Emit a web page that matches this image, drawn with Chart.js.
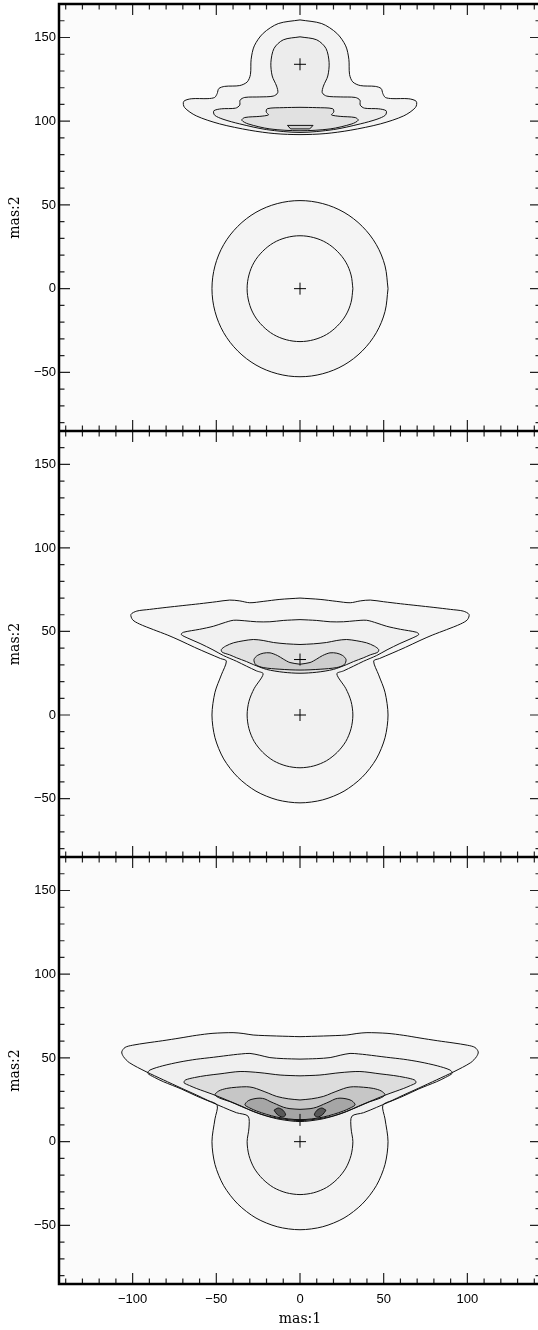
<!DOCTYPE html>
<html lang="en">
<head>
    <meta charset="UTF-8">
    <title>mas contours</title>
    <script src="https://cdn.jsdelivr.net/npm/chart.js"></script>
    <style>
        body {
            margin: 0;
            padding: 0;
            background: #fff;
            overflow: hidden;
        }
        #wrap {
            position: relative;
            width: 538px;
            height: 1330px;
            overflow: hidden;
        }
        canvas {
            position: absolute;
            left: 0;
        }
    </style>
</head>
<body>
    <div id="wrap">
        <canvas id="panel1" width="541" height="431" style="top:0"></canvas>
        <canvas id="panel2" width="541" height="426" style="top:431px"></canvas>
        <canvas id="panel3" width="541" height="473" style="top:857px"></canvas>
    </div>
    <script>
        // axes
        const xRange = [-144, 144];
        const yRange = [-85, 170];
        const xTickLabels = [-100, -50, 0, 50, 100];
        const yTickLabels = [-50, 0, 50, 100, 150];
        const xTitle = 'mas:1';
        const yTitle = 'mas:2';

        // source positions (the + marks)
        const p1Sources = [[0, 0], [0, 134]];
        const p2Sources = [[0, 0], [0, 33.2]];
        const p3Sources = [[0, 0], [0, 13]];

        // panel 1 contours
        const p1CircleOuter = [[52.6,0],[50.8,13.6],[45.6,26.3],[37.2,37.2],[26.3,45.6],[13.6,50.8],[0,52.6],[-13.6,50.8],[-26.3,45.6],[-37.2,37.2],[-45.6,26.3],[-50.8,13.6],[-52.6,0],[-50.8,-13.6],[-45.6,-26.3],[-37.2,-37.2],[-26.3,-45.6],[-13.6,-50.8],[0,-52.6],[13.6,-50.8],[26.3,-45.6],[37.2,-37.2],[45.6,-26.3],[50.8,-13.6],[52.6,0]];
        const p1CircleInner = [[31.6,0],[30.5,8.2],[27.4,15.8],[22.3,22.3],[15.8,27.4],[8.2,30.5],[0,31.6],[-8.2,30.5],[-15.8,27.4],[-22.3,22.3],[-27.4,15.8],[-30.5,8.2],[-31.6,0],[-30.5,-8.2],[-27.4,-15.8],[-22.3,-22.3],[-15.8,-27.4],[-8.2,-30.5],[0,-31.6],[8.2,-30.5],[15.8,-27.4],[22.3,-22.3],[27.4,-15.8],[30.5,-8.2],[31.6,0]];
        const p1FanA = [[0,160.5],[13,158.3],[22,152.5],[27.3,145],[29.2,137],[29.6,128],[31.5,123.5],[36,121.3],[45,120.8],[48.5,119.5],[49.5,116.5],[51,114.2],[55,113.5],[65,113.4],[69.5,111.8],[69,108.2],[62,103.2],[48,98.4],[30,94.6],[15,92.6],[0,92],[-15,92.6],[-30,94.6],[-48,98.4],[-62,103.2],[-69,108.2],[-69.5,111.8],[-65,113.4],[-55,113.5],[-51,114.2],[-49.5,116.5],[-48.5,119.5],[-45,120.8],[-36,121.3],[-31.5,123.5],[-29.6,128],[-29.2,137],[-27.3,145],[-22,152.5],[-13,158.3],[0,160.5]];
        const p1FanB = [[0,150.4],[10,148.6],[15.5,143.5],[17.4,135],[16.6,127],[14,121],[13.3,117],[16,115],[24,114.5],[33,114.2],[35.8,112.6],[36,109.6],[38.5,107.8],[47,107.4],[51.5,106.2],[51,103.6],[46,101.2],[36,98.4],[20,95],[0,93.3],[-20,95],[-36,98.4],[-46,101.2],[-51,103.6],[-51.5,106.2],[-47,107.4],[-38.5,107.8],[-36,109.6],[-35.8,112.6],[-33,114.2],[-24,114.5],[-16,115],[-13.3,117],[-14,121],[-16.6,127],[-17.4,135],[-15.5,143.5],[-10,148.6],[0,150.4]];
        const p1FanC = [[0,108.3],[10,108.1],[19.5,107.5],[20.2,105.5],[18.8,103.8],[24,102.9],[33,102.2],[34.8,100.6],[31,98.4],[18,95.4],[0,94.3],[-18,95.4],[-31,98.4],[-34.8,100.6],[-33,102.2],[-24,102.9],[-18.8,103.8],[-20.2,105.5],[-19.5,107.5],[-10,108.1],[0,108.3]];
        const p1FanD = [[-7.5,97.5],[7.8,97.5],[5.8,95.4],[-5.6,95.4],[-7.5,97.5]];

        // panel 2 contours
        const p2LevelA = [[0,70],[12,69.2],[22,68],[30,67.2],[36,68.3],[42,68.8],[50,67.8],[60,66.6],[70,65.5],[80,64.4],[90,63.2],[97.5,62.2],[101,60.2],[100,57],[96,54.5],[87.6,51.1],[79,47.8],[71.7,44.6],[63,40.5],[55,37],[47.5,33.8],[44,32.3],[47,24],[50.8,13.6],[52.6,0],[50.8,-13.6],[45.6,-26.3],[37.2,-37.2],[26.3,-45.6],[13.6,-50.8],[0,-52.6],[-13.6,-50.8],[-26.3,-45.6],[-37.2,-37.2],[-45.6,-26.3],[-50.8,-13.6],[-52.6,0],[-50.8,13.6],[-47,24],[-44,32.3],[-47.5,33.8],[-55,37],[-63,40.5],[-71.7,44.6],[-79,47.8],[-87.6,51.1],[-96,54.5],[-100,57],[-101,60.2],[-97.5,62.2],[-90,63.2],[-80,64.4],[-70,65.5],[-60,66.6],[-50,67.8],[-42,68.8],[-36,68.3],[-30,67.2],[-22,68],[-12,69.2],[0,70]];
        const p2LevelB = [[0,57.1],[10,56.6],[18,55.8],[26,55.8],[33,56.4],[39.8,56.7],[46,55],[51.8,53.1],[60,51.3],[69.7,49.5],[71,48.2],[67,46],[59.7,42.8],[52,39],[45.8,35.6],[38,32.2],[31.9,29.2],[26,26.4],[22,24.6],[27.4,15.8],[30.5,8.2],[31.6,0],[30.5,-8.2],[27.4,-15.8],[22.3,-22.3],[15.8,-27.4],[8.2,-30.5],[0,-31.6],[-8.2,-30.5],[-15.8,-27.4],[-22.3,-22.3],[-27.4,-15.8],[-30.5,-8.2],[-31.6,0],[-30.5,8.2],[-27.4,15.8],[-22,24.6],[-26,26.4],[-31.9,29.2],[-38,32.2],[-45.8,35.6],[-52,39],[-59.7,42.8],[-67,46],[-71,48.2],[-69.7,49.5],[-60,51.3],[-51.8,53.1],[-46,55],[-39.8,56.7],[-33,56.4],[-26,55.8],[-18,55.8],[-10,56.6],[0,57.1]];
        const p2LevelC = [[0,42.2],[8,42.6],[15.9,43.4],[22,44.6],[27.9,45.2],[34,44.4],[39.8,43.2],[44.5,41.2],[47,39.2],[46.5,37.6],[42,36],[37.8,34.2],[32,32],[27.9,30.2],[20,27.3],[10,25.6],[0,25],[-10,25.6],[-20,27.3],[-27.9,30.2],[-32,32],[-37.8,34.2],[-42,36],[-46.5,37.6],[-47,39.2],[-44.5,41.2],[-39.8,43.2],[-34,44.4],[-27.9,45.2],[-22,44.6],[-15.9,43.4],[-8,42.6],[0,42.2]];
        const p2LevelD = [[0,30.4],[6,31.4],[10,33.5],[13.5,35.6],[17.9,37.2],[22,37],[25.5,35.6],[27.5,33.2],[26.5,30.2],[22,28.4],[12,27.4],[0,26.9],[-12,27.4],[-22,28.4],[-26.5,30.2],[-27.5,33.2],[-25.5,35.6],[-22,37],[-17.9,37.2],[-13.5,35.6],[-10,33.5],[-6,31.4],[0,30.4]];

        // panel 3 contours
        const p3LevelA = [[0,62.7],[14,63.1],[28,63.7],[34,64.6],[40,65.1],[52,64.7],[62,63.5],[71.7,61.9],[82,60.3],[92,58.9],[100,57.6],[104.5,56.3],[106.5,53.6],[105.5,50.8],[102,47.2],[92,41.8],[81.6,36.9],[71,32],[61.7,27.8],[55,24.6],[49.5,21.8],[50.8,13.6],[52.6,0],[50.8,-13.6],[45.6,-26.3],[37.2,-37.2],[26.3,-45.6],[13.6,-50.8],[0,-52.6],[-13.6,-50.8],[-26.3,-45.6],[-37.2,-37.2],[-45.6,-26.3],[-50.8,-13.6],[-52.6,0],[-50.8,13.6],[-49.5,21.8],[-55,24.6],[-61.7,27.8],[-71,32],[-81.6,36.9],[-92,41.8],[-102,47.2],[-105.5,50.8],[-106.5,53.6],[-104.5,56.3],[-100,57.6],[-92,58.9],[-82,60.3],[-71.7,61.9],[-62,63.5],[-52,64.7],[-40,65.1],[-34,64.6],[-28,63.7],[-14,63.1],[0,62.7]];
        const p3LevelB = [[0,49.3],[10,49.6],[18,50.2],[24,51.6],[29.9,52.7],[35,52.4],[39.8,51.9],[51.8,50.4],[62,49.2],[71.7,47.6],[82,45.3],[89.6,42.8],[91,40.9],[87,38.4],[81.6,35.8],[71,31.5],[61.7,27.2],[53,23.6],[45.8,20.5],[38,17.3],[31,15.2],[30.5,8.2],[31.6,0],[30.5,-8.2],[27.4,-15.8],[22.3,-22.3],[15.8,-27.4],[8.2,-30.5],[0,-31.6],[-8.2,-30.5],[-15.8,-27.4],[-22.3,-22.3],[-27.4,-15.8],[-30.5,-8.2],[-31.6,0],[-30.5,8.2],[-31,15.2],[-38,17.3],[-45.8,20.5],[-53,23.6],[-61.7,27.2],[-71,31.5],[-81.6,35.8],[-87,38.4],[-91,40.9],[-89.6,42.8],[-82,45.3],[-71.7,47.6],[-62,49.2],[-51.8,50.4],[-39.8,51.9],[-35,52.4],[-29.9,52.7],[-24,51.6],[-18,50.2],[-10,49.6],[0,49.3]];
        const p3LevelC = [[0,39.3],[11.9,39.8],[23.9,41.2],[35.8,41.9],[47.8,40.5],[56,39.5],[63,38.3],[68.5,36.8],[69.3,35.2],[66,33.5],[61.7,31.7],[52,28.2],[43.8,24.9],[35,21.2],[27.9,18],[20,15.3],[11.9,13.3],[0,12],[-11.9,13.3],[-20,15.3],[-27.9,18],[-35,21.2],[-43.8,24.9],[-52,28.2],[-61.7,31.7],[-66,33.5],[-69.3,35.2],[-68.5,36.8],[-63,38.3],[-56,39.5],[-47.8,40.5],[-35.8,41.9],[-23.9,41.2],[-11.9,39.8],[0,39.3]];
        const p3LevelD = [[0,24.9],[7,25.6],[13.9,27],[19,29],[23.9,30.9],[28,32.3],[31.9,32.8],[38,32.5],[43.8,31.8],[48.5,30.3],[50.8,28],[48,26],[41.8,23.9],[35,21],[27.9,18.1],[20,15.4],[11.9,13.8],[0,12.6],[-11.9,13.8],[-20,15.4],[-27.9,18.1],[-35,21],[-41.8,23.9],[-48,26],[-50.8,28],[-48.5,30.3],[-43.8,31.8],[-38,32.5],[-31.9,32.8],[-28,32.3],[-23.9,30.9],[-19,29],[-13.9,27],[-7,25.6],[0,24.9]];
        const p3LevelE = [[0,19.3],[6,19.7],[10,20.6],[14,22.3],[17.9,24],[21,25.5],[23.9,26],[27.5,25.6],[30.9,24.5],[32.9,22],[30,20.1],[25.9,18.3],[20,16.3],[13.9,14.7],[7,13.6],[0,13.1],[-7,13.6],[-13.9,14.7],[-20,16.3],[-25.9,18.3],[-30,20.1],[-32.9,22],[-30.9,24.5],[-27.5,25.6],[-23.9,26],[-21,25.5],[-17.9,24],[-14,22.3],[-10,20.6],[-6,19.7],[0,19.3]];
        const p3BlobLeft = [[-15.5,18.8],[-13,20.1],[-10.2,18.8],[-8.6,16],[-10.5,14.7],[-13.6,16.2],[-15.5,18.8]];
        const p3BlobRight = [[15.5,18.8],[13,20.1],[10.2,18.8],[8.6,16],[10.5,14.7],[13.6,16.2],[15.5,18.8]];

        const minorStep = 10;
        const majorStep = 50;

        function toXY(arr) {
            return arr.map(p => ({x: p[0], y: p[1]}));
        }

        function contour(arr, shade, tension) {
            return {
                data: toXY(arr),
                shade: shade,
                showLine: true,
                borderColor: '#111',
                borderWidth: 1,
                pointRadius: 0,
                tension: tension === undefined ? 0.34 : tension,
                fill: false
            };
        }

        function sources(arr) {
            return {
                data: toXY(arr),
                showLine: false,
                pointStyle: 'cross',
                pointRadius: 6,
                pointBorderWidth: 1,
                pointBorderColor: '#000',
                borderColor: '#000'
            };
        }

        function fmt(v) {
            return v < 0 ? '\u2212' + (-v) : String(v);
        }

        // no extra room for half tick labels at the ends of the axes
        function noEdgePadding(s) {
            s.paddingTop = 0;
            s.paddingBottom = 0;
            s.paddingLeft = 0;
            s.paddingRight = 0;
        }

        // background, grey shading under contours, frame and inward ticks
        const framePlugin = {
            id: 'frame',
            beforeDatasetsDraw(chart) {
                const ctx = chart.ctx;
                const a = chart.chartArea;
                ctx.save();
                ctx.fillStyle = '#fbfbfb';
                ctx.fillRect(a.left, a.top, a.right - a.left, a.bottom - a.top);
                chart.data.datasets.forEach((ds, i) => {
                    if (!ds.shade) return;
                    const line = chart.getDatasetMeta(i).dataset;
                    if (!line) return;
                    line.updateControlPoints(a, 'x');
                    ctx.beginPath();
                    line.path(ctx);
                    ctx.closePath();
                    ctx.fillStyle = ds.shade;
                    ctx.fill();
                });
                ctx.restore();
            },
            afterDraw(chart) {
                const ctx = chart.ctx;
                const a = chart.chartArea;
                const xs = chart.scales.x;
                const ys = chart.scales.y;
                ctx.save();
                ctx.strokeStyle = '#222';
                ctx.lineWidth = 1.2;
                ctx.beginPath();
                for (let v = Math.ceil(xs.min / minorStep) * minorStep; v < xs.max; v += minorStep) {
                    if (v <= xs.min) continue;
                    const len = v % majorStep === 0 ? 11 : 5.5;
                    const px = xs.getPixelForValue(v);
                    ctx.moveTo(px, a.bottom);
                    ctx.lineTo(px, a.bottom - len);
                    ctx.moveTo(px, a.top);
                    ctx.lineTo(px, a.top + len);
                }
                for (let v = Math.ceil(ys.min / minorStep) * minorStep; v < ys.max; v += minorStep) {
                    if (v <= ys.min) continue;
                    const len = v % majorStep === 0 ? 11 : 5.5;
                    const py = ys.getPixelForValue(v);
                    ctx.moveTo(a.left, py);
                    ctx.lineTo(a.left + len, py);
                    ctx.moveTo(a.right, py);
                    ctx.lineTo(a.right - len, py);
                }
                ctx.stroke();
                ctx.strokeStyle = '#000';
                ctx.lineWidth = 2.5;
                ctx.strokeRect(a.left, a.top, a.right - a.left, a.bottom - a.top);
                ctx.restore();
            }
        };

        const tickFont = {family: 'Liberation Sans', size: 13};
        const titleFont = {family: 'DejaVu Serif', size: 14};

        function makePanel(id, datasets, padTop, showX) {
            return new Chart(document.getElementById(id), {
                type: 'scatter',
                data: {datasets: datasets},
                plugins: [framePlugin],
                options: {
                    responsive: false,
                    animation: false,
                    events: [],
                    layout: {autoPadding: false, padding: {top: padTop, right: 0, bottom: 0, left: 0}},
                    plugins: {
                        legend: {display: false},
                        tooltip: {enabled: false}
                    },
                    scales: {
                        x: {
                            type: 'linear',
                            min: xRange[0],
                            max: xRange[1],
                            display: showX,
                            afterBuildTicks: s => { s.ticks = xTickLabels.map(v => ({value: v})); },
                            afterFit: s => { if (showX) s.height = 46; noEdgePadding(s); },
                            grid: {display: false, drawTicks: false},
                            border: {display: false},
                            ticks: {padding: 8, color: '#000', font: tickFont, callback: fmt, autoSkip: false, maxRotation: 0},
                            title: {display: true, text: xTitle, color: '#000', font: titleFont, padding: {top: 0, bottom: 2}}
                        },
                        y: {
                            type: 'linear',
                            min: yRange[0],
                            max: yRange[1],
                            afterBuildTicks: s => { s.ticks = yTickLabels.map(v => ({value: v})); },
                            afterFit: s => { s.width = 59; noEdgePadding(s); },
                            grid: {display: false, drawTicks: false},
                            border: {display: false},
                            ticks: {padding: 3, color: '#000', font: tickFont, callback: fmt, autoSkip: false},
                            title: {display: true, text: yTitle, color: '#000', font: titleFont, padding: {top: 7, bottom: 0}}
                        }
                    }
                }
            });
        }

        makePanel('panel1', [
            contour(p1CircleOuter, '#f4f4f4'),
            contour(p1CircleInner, '#f6f6f6'),
            contour(p1FanA, '#f3f3f3', 0.3),
            contour(p1FanB, '#ececec', 0.3),
            contour(p1FanC, '#e1e1e1', 0.3),
            contour(p1FanD, '#d2d2d2', 0),
            sources(p1Sources)
        ], 4, false);

        makePanel('panel2', [
            contour(p2LevelA, '#f5f5f5', 0.3),
            contour(p2LevelB, '#f1f1f1', 0.3),
            contour(p2LevelC, '#e2e2e2', 0.3),
            contour(p2LevelD, '#cdcdcd', 0.3),
            sources(p2Sources)
        ], 0, false);

        makePanel('panel3', [
            contour(p3LevelA, '#f4f4f4', 0.3),
            contour(p3LevelB, '#f0f0f0', 0.3),
            contour(p3LevelC, '#dddddd', 0.3),
            contour(p3LevelD, '#c6c6c6', 0.3),
            contour(p3LevelE, '#a6a6a6', 0.3),
            contour(p3BlobLeft, '#595959', 0.3),
            contour(p3BlobRight, '#595959', 0.3),
            sources(p3Sources)
        ], 0, true);
    </script>
</body>
</html>
